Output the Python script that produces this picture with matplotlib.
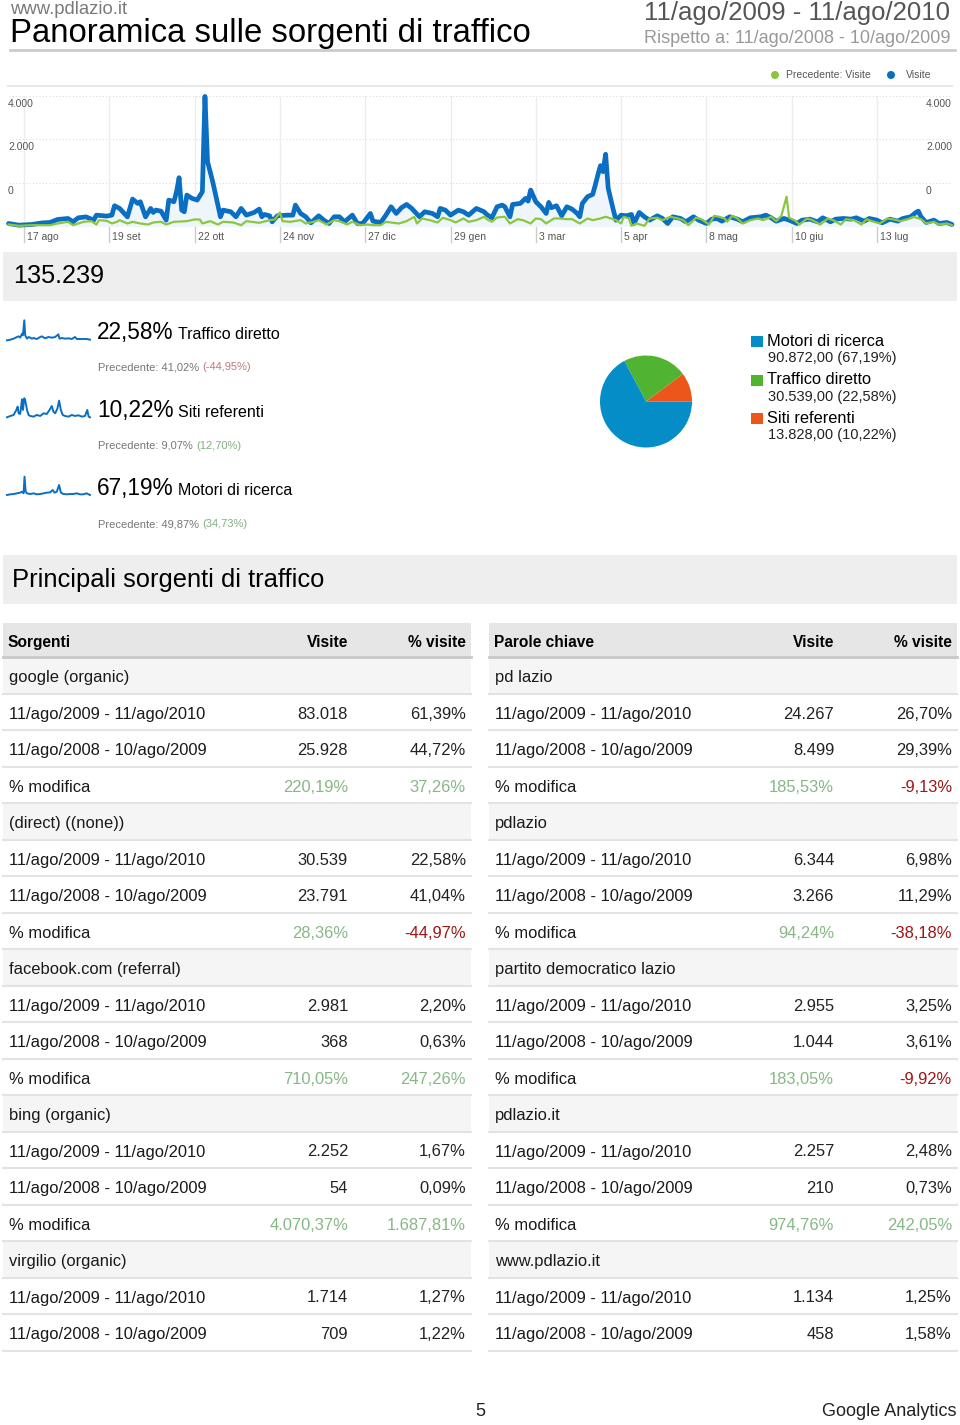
import matplotlib
matplotlib.use('Agg')
import matplotlib.pyplot as plt
from matplotlib.patches import Rectangle, Circle
from matplotlib.lines import Line2D
import matplotlib.transforms as mtransforms

plt.rcParams['font.family'] = ['Liberation Sans', 'DejaVu Sans']

# ---------------- data ----------------
site = "www.pdlazio.it"
title = "Panoramica sulle sorgenti di traffico"
period = "11/ago/2009 - 11/ago/2010"
compare = "Rispetto a: 11/ago/2008 - 10/ago/2009"
total_visits = 135239

tick_days = [6, 39, 72, 105, 138, 171, 204, 237, 270, 303, 336]
tick_labels = ["17 ago", "19 set", "22 ott", "24 nov", "27 dic", "29 gen",
               "3 mar", "5 apr", "8 mag", "10 giu", "13 lug"]
ylabels = ["4.000", "2.000", "0"]

blue_day = [
    0, 4, 9, 13, 16, 19, 23, 25, 27, 30,
    33, 34, 38, 40, 41, 43, 46, 48, 50, 51,
    53, 55, 56, 57, 59, 61, 62, 64, 65, 66,
    67, 68, 69, 71, 73, 75, 76, 77, 79, 81,
    82, 83, 86, 88, 90, 92, 95, 97, 98, 99,
    101, 102, 104, 108, 110, 111, 113, 115, 117, 120,
    122, 124, 126, 128, 130, 133, 135, 137, 140, 141,
    144, 146, 148, 150, 152, 154, 156, 159, 161, 164,
    166, 167, 169, 171, 174, 176, 178, 181, 184, 185,
    187, 189, 191, 192, 194, 195, 198, 200, 201, 202,
    204, 206, 208, 209, 210, 212, 214, 216, 218, 220,
    221, 222, 224, 226, 227, 228, 229, 230, 231, 232,
    234, 235, 237, 239, 241, 242, 244, 246, 248, 251,
    253, 255, 257, 260, 262, 265, 267, 270, 272, 274,
    276, 279, 282, 284, 287, 291, 293, 295, 297, 300,
    302, 305, 307, 310, 313, 315, 318, 320, 323, 326,
    328, 331, 333, 336, 338, 341, 344, 346, 349, 351,
    352, 353, 355, 358, 360, 363, 365]
blue_val = [
    75, 33, 50, 90, 100, 175, 200, 117, 217, 240,
    160, 283, 260, 283, 517, 450, 240, 683, 575, 617,
    240, 450, 350, 408, 383, 158, 658, 617, 867, 1216,
    408, 367, 783, 700, 658, 867, 3240, 1616, 1117, 533,
    242, 408, 367, 242, 450, 283, 350, 433, 242, 300,
    267, 117, 267, 283, 283, 533, 325, 242, 92, 267,
    158, 75, 242, 242, 117, 283, 75, 75, 325, 133,
    100, 283, 492, 325, 467, 550, 450, 242, 367, 325,
    242, 450, 408, 283, 408, 367, 283, 450, 367, 300,
    217, 492, 533, 492, 242, 550, 575, 700, 633, 908,
    617, 492, 325, 600, 467, 517, 267, 492, 433, 325,
    242, 575, 742, 800, 1033, 1283, 1516, 1366, 1800, 950,
    408, 158, 283, 267, 300, 75, 350, 242, 158, 267,
    200, 75, 242, 200, 117, 242, 158, 75, 183, 200,
    133, 242, 183, 117, 217, 242, 283, 217, 133, 200,
    158, 75, 158, 183, 117, 217, 117, 183, 200, 183,
    217, 133, 200, 158, 92, 183, 133, 200, 242, 350,
    383, 242, 100, 158, 75, 100, 50]

green_day = [
    0, 4, 9, 16, 19, 23, 25, 29, 32, 34,
    35, 38, 40, 42, 43, 46, 48, 51, 54, 56,
    59, 61, 64, 69, 72, 74, 75, 78, 81, 83,
    87, 90, 92, 94, 97, 101, 103, 105, 106, 109,
    113, 115, 118, 120, 123, 126, 128, 131, 133, 136,
    139, 141, 144, 146, 149, 151, 154, 157, 158, 160,
    163, 166, 168, 171, 173, 176, 178, 181, 184, 185,
    187, 189, 192, 194, 197, 199, 202, 204, 206, 208,
    211, 213, 216, 218, 221, 224, 226, 229, 231, 233,
    235, 237, 238, 240, 241, 243, 246, 248, 251, 253,
    256, 259, 261, 263, 266, 268, 271, 273, 275, 277,
    278, 280, 282, 284, 287, 290, 292, 295, 297, 299,
    301, 302, 304, 306, 309, 311, 314, 317, 319, 322,
    324, 327, 330, 332, 334, 337, 340, 342, 345, 348,
    350, 353, 355, 358, 360, 363, 365]
green_val = [
    50, 17, 33, 33, 75, 117, 33, 117, 133, 50,
    158, 142, 75, 117, 158, 75, 117, 75, 50, 100,
    117, 50, 117, 133, 175, 175, 75, 133, 50, 117,
    100, 33, 133, 117, 92, 158, 175, 350, 133, 117,
    158, 75, 117, 158, 50, 158, 133, 50, 117, 33,
    50, 33, 33, 117, 92, 75, 133, 242, 75, 200,
    158, 100, 217, 158, 100, 200, 117, 158, 242, 183,
    117, 225, 242, 75, 183, 158, 75, 200, 183, 75,
    200, 200, 183, 183, 75, 200, 158, 200, 242, 200,
    158, 75, 242, 200, 17, 75, 17, 200, 217, 158,
    242, 200, 158, 33, 217, 183, 50, 267, 242, 200,
    117, 267, 200, 75, 158, 200, 158, 242, 133, 267,
    742, 217, 158, 50, 200, 158, 50, 200, 158, 50,
    183, 158, 50, 183, 133, 75, 200, 183, 133, 183,
    242, 183, 75, 117, 50, 75, 33]

# sparklines (relative daily visits per source)
spark1_day = [0, 15, 29, 44, 51, 58, 66, 70, 76, 80, 88, 95, 102, 110, 117, 131, 146,
              153, 168, 182, 197, 212, 226, 231, 241, 255, 270, 285, 299, 307, 321, 336, 350, 365]
spark1_val = [2, 4, 7, 12, 14, 10, 22, 17, 62, 17, 7, 12, 10, 7, 9, 6, 12,
              14, 8, 12, 10, 12, 20, 7, 9, 7, 8, 6, 12, 6, 6, 6, 6, 4]
spark2_day = [0, 15, 29, 41, 47, 51, 58, 66, 70, 76, 80, 88, 95, 102, 117, 131, 146, 161, 175,
              187, 197, 204, 212, 222, 229, 237, 245, 255, 270, 285, 299, 314, 329, 343, 353, 359, 365]
spark2_val = [3, 7, 10, 25, 35, 15, 13, 57, 25, 60, 55, 25, 10, 7, 5, 10, 7, 15, 13,
              25, 37, 20, 15, 30, 53, 25, 10, 7, 5, 10, 7, 9, 5, 7, 25, 5, 3]
spark3_day = [0, 15, 29, 44, 58, 66, 73, 77, 82, 88, 102, 117, 131, 146, 161, 175, 190,
              201, 209, 219, 229, 237, 248, 263, 277, 292, 307, 321, 336, 350, 365]
spark3_val = [3, 5, 6, 8, 10, 13, 8, 58, 13, 8, 6, 8, 5, 6, 8, 10, 11,
              18, 10, 13, 33, 10, 6, 5, 6, 6, 8, 5, 5, 8, 3]

share_names = ["Traffico diretto", "Siti referenti", "Motori di ricerca"]
share_pct = [22.58, 10.22, 67.19]
share_prev_pct = [41.02, 9.07, 49.87]
share_change = [-44.95, 12.70, 34.73]

pie_labels = ["Motori di ricerca", "Traffico diretto", "Siti referenti"]
pie_values = [90872, 30539, 13828]
pie_pcts = [67.19, 22.58, 10.22]

section_title = "Principali sorgenti di traffico"
row_periods = ["11/ago/2009 - 11/ago/2010", "11/ago/2008 - 10/ago/2009", "% modifica"]

src_names = ["google (organic)", "(direct) ((none))", "facebook.com (referral)",
             "bing (organic)", "virgilio (organic)"]
src_cur_visits = [83018, 30539, 2981, 2252, 1714]
src_cur_pct = [61.39, 22.58, 2.20, 1.67, 1.27]
src_prev_visits = [25928, 23791, 368, 54, 709]
src_prev_pct = [44.72, 41.04, 0.63, 0.09, 1.22]
src_chg_visits = [220.19, 28.36, 710.05, 4070.37]
src_chg_pct = [37.26, -44.97, 247.26, 1687.81]

kw_names = ["pd lazio", "pdlazio", "partito democratico lazio", "pdlazio.it", "www.pdlazio.it"]
kw_cur_visits = [24267, 6344, 2955, 2257, 1134]
kw_cur_pct = [26.70, 6.98, 3.25, 2.48, 1.25]
kw_prev_visits = [8499, 3266, 1044, 210, 458]
kw_prev_pct = [29.39, 11.29, 3.61, 0.73, 1.58]
kw_chg_visits = [185.53, 94.24, 183.05, 974.76]
kw_chg_pct = [-9.13, -38.18, -9.92, 242.05]

page_number = "5"
footer = "Google Analytics"

# ---------------- helpers ----------------
W, H = 960, 1425
fig = plt.figure(figsize=(W / 100, H / 100), dpi=100)
fig.patch.set_facecolor('white')
base = fig.add_axes([0, 0, 1, 1])
base.set_xlim(0, W)
base.set_ylim(H, 0)
base.axis('off')


def px_axes(x0, y0, x1, y1):
    return fig.add_axes([x0 / W, 1 - y1 / H, (x1 - x0) / W, (y1 - y0) / H])


def T(x, y, s, size, color='#222222', ha='left', va='center', weight='normal'):
    return base.text(x, y, s, fontsize=size, color=color, ha=ha, va=va, fontweight=weight)


def seq_text(x, y, parts, size, va='center'):
    r = fig.canvas.get_renderer()
    for s, c in parts:
        t = base.text(x, y, s, fontsize=size, color=c, ha='left', va=va)
        bb = t.get_window_extent(renderer=r)
        x += bb.width


def it_int(n):
    return f"{n:,}".replace(',', '.')


def it_num(v, suffix=''):
    s = f"{v:,.2f}".replace(',', 'X').replace('.', ',').replace('X', '.')
    return s + suffix


BLUE = '#0a6fc2'
GREEN = '#8cc63f'
GA_BLUE = '#058dc7'
GA_GREEN = '#50b432'
GA_ORANGE = '#ed561b'
POS = '#86b886'
NEG = '#a01515'

# ---------------- header ----------------
T(10, 9, site, 13.3, '#7a7a7a')
T(10, 33, title, 23.7, '#000000')
T(950, 13, period, 18.5, '#555555', ha='right')
T(950, 38, compare, 13, '#999999', ha='right')
base.add_line(Line2D([10, 955], [50, 50], color='#cccccc', lw=2))

# legend of main chart
base.add_patch(Circle((775, 75), 3.3, color=GREEN))
T(786, 75, "Precedente: Visite", 7.5, '#555555')
base.add_patch(Circle((891, 75), 3.3, color=BLUE))
T(906, 75, "Visite", 7.5, '#555555')
base.add_line(Line2D([8, 952], [86, 86], color='#e8e8e8', lw=1.5))

# ---------------- main line chart ----------------
ax = px_axes(8.5, 90, 952, 226.5)
ax.set_xlim(0, 365)
ax.set_ylim(0, 3400)
ax.axis('off')
grid_vals = [1087.5, 2175, 3262.5]
for gv in grid_vals:
    ax.axhline(gv, color='#dddddd', lw=0.8, ls=(0, (1, 2)), zorder=1)
for d in tick_days:
    ax.plot([d, d], [0, 3262.5], color='#ececec', lw=1, zorder=1)
    ax.plot([d, d], [0, -375], color='#cccccc', lw=1, clip_on=False, zorder=1)
ax.axhline(0, color='#c4c4c4', lw=1, zorder=1)
ax.fill_between(blue_day, blue_val, 0, color='#eef6fb', zorder=2, lw=0)
ax.plot(blue_day, blue_val, color=BLUE, lw=3.4, solid_joinstyle='round',
        solid_capstyle='round', clip_on=False, zorder=3)
ax.plot(green_day, green_val, color=GREEN, lw=1.6, solid_joinstyle='round',
        clip_on=False, zorder=4)

xt = ax.get_xaxis_transform()
xt_off = mtransforms.offset_copy(xt, fig=fig, x=3, y=0, units='dots')
for d, lab in zip(tick_days, tick_labels):
    ax.text(d, -11 / 136.5, lab, transform=xt_off, fontsize=7.5, color='#555555',
            ha='left', va='center')
yt = ax.get_yaxis_transform()
tl = mtransforms.offset_copy(yt, fig=fig, x=0, y=-8, units='dots')
for gv, lab in zip(grid_vals[::-1], ylabels):
    ax.text(-0.5 / 943.5, gv, lab, transform=tl, fontsize=7.5, color='#555555', ha='left', va='center')
    ax.text(917.5 / 943.5, gv, lab, transform=tl, fontsize=7.5, color='#555555', ha='left', va='center')

# ---------------- total band ----------------
base.add_patch(Rectangle((3, 252), 954, 49, color='#eeeeee', lw=0))
T(13, 276, it_int(total_visits), 18.2, '#000000')

# ---------------- sparklines ----------------
spark_days = [spark1_day, spark2_day, spark3_day]
spark_vals = [spark1_val, spark2_val, spark3_val]
spark_base = [341, 418.3, 496]
pct_base = [338.5, 416.7, 495]
prev_center = [367.3, 445.7, 524]
for i in range(3):
    sax = px_axes(7, spark_base[i] - 21, 90, spark_base[i])
    sax.set_xlim(0, 365)
    sax.set_ylim(0, 63)
    sax.axis('off')
    sax.plot(spark_days[i], spark_vals[i], color=BLUE, lw=1.4, clip_on=False)
    T(97, pct_base[i], it_num(share_pct[i], '%'), 16.3, '#000000', va='baseline')
    T(178, pct_base[i], share_names[i], 11.5, '#000000', va='baseline')
    ch = share_change[i]
    seq_text(98, prev_center[i],
             [("Precedente: " + it_num(share_prev_pct[i], '%') + " ", '#777777'),
              ("(" + it_num(ch, '%') + ")", '#c07878' if ch < 0 else '#80b080')], 8)

# ---------------- pie ----------------
pax = px_axes(600, 355.5, 692, 447.5)
pax.pie(pie_values[::-1], colors=[GA_ORANGE, GA_GREEN, GA_BLUE], startangle=0,
        counterclock=True, wedgeprops=dict(lw=0))
pax.set_xlim(-1, 1)
pax.set_ylim(-1, 1)
pax.set_aspect('equal')
pie_cols = [GA_BLUE, GA_GREEN, GA_ORANGE]
for i in range(3):
    top = 336 + 38.5 * i
    base.add_patch(Rectangle((751, top), 12, 11, color=pie_cols[i], lw=0))
    T(767, top + 5, pie_labels[i], 11.8, '#000000')
    T(768, top + 22, it_num(pie_values[i]) + " (" + it_num(pie_pcts[i], '%') + ")", 10.5, '#222222')

# ---------------- section band ----------------
base.add_patch(Rectangle((3, 555), 954, 49, color='#eeeeee', lw=0))
T(12, 580, section_title, 18.4, '#000000')


# ---------------- tables ----------------
def draw_table(x0, x1, head, names, cv, cp, pv, pp, chv, chp):
    vis_r = x0 + 345
    pct_r = x1 - 5
    base.add_patch(Rectangle((x0, 623), x1 - x0, 34, color='#e6e6e6', lw=0))
    base.add_line(Line2D([x0, x1], [657, 657], color='#c8c8c8', lw=2))
    T(x0 + 5, 642, head, 11.2, '#000000', weight='bold')
    T(vis_r, 642, "Visite", 11.2, '#000000', ha='right', weight='bold')
    T(pct_r, 642, "% visite", 11.2, '#000000', ha='right', weight='bold')
    rows = []
    for g, nm in enumerate(names):
        rows.append((nm, None, None, None, True, g))
        rows.append((row_periods[0], it_int(cv[g]), it_num(cp[g], '%'), '#222222', False, g))
        rows.append((row_periods[1], it_int(pv[g]), it_num(pp[g], '%'), '#222222', False, g))
        if g < len(chv):
            rows.append((row_periods[2], it_num(chv[g], '%'), it_num(chp[g], '%'), 'chg', False, g))
    for i, (lab, v, p, col, is_name, g) in enumerate(rows):
        top = 657 + 36.5 * i
        if is_name:
            base.add_patch(Rectangle((x0, top + 1), x1 - x0, 35.5, color='#f5f5f5', lw=0))
        base.add_line(Line2D([x0, x1], [top + 36.5, top + 36.5], color='#e3e3e3', lw=1.5))
        cy = top + 20.5
        T(x0 + 6, cy, lab, 11.9, '#1a1a1a')
        if v is not None:
            if col == 'chg':
                vc = POS if chv[g] >= 0 else NEG
                pc = POS if chp[g] >= 0 else NEG
            else:
                vc = pc = col
            T(vis_r, cy, v, 11.9, vc, ha='right')
            T(pct_r, cy, p, 11.9, pc, ha='right')


draw_table(3, 471, "Sorgenti", src_names, src_cur_visits, src_cur_pct, src_prev_visits,
           src_prev_pct, src_chg_visits, src_chg_pct)
draw_table(489, 957, "Parole chiave", kw_names, kw_cur_visits, kw_cur_pct, kw_prev_visits,
           kw_prev_pct, kw_chg_visits, kw_chg_pct)

# ---------------- footer ----------------
T(480, 1412, page_number, 13, '#222222', ha='center')
T(956, 1412, footer, 13, '#222222', ha='right')

fig.savefig('out.png', dpi=100)
